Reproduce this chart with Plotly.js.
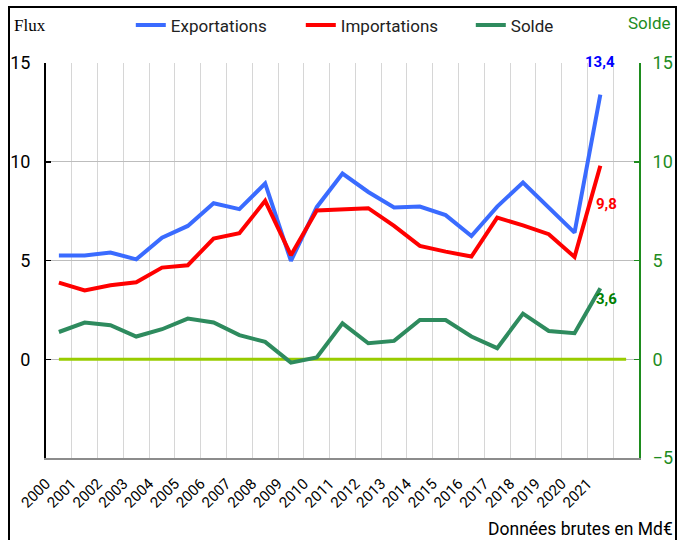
<!DOCTYPE html>
<html>
<head>
<meta charset="utf-8">
<script src="https://cdn.plot.ly/plotly-3.0.1.min.js"></script>
<style>
html,body{margin:0;padding:0;background:#fff;}
#wrap{position:relative;width:678px;height:540px;overflow:hidden;}
#chart{position:absolute;left:0;top:0;width:678px;height:540px;}
#frame{position:absolute;left:8px;top:6px;width:665px;height:560px;border:2px solid #000;pointer-events:none;}
</style>
</head>
<body>
<div id="wrap"><div id="chart"></div><div id="frame"></div></div>
<script>
const years = [2000,2001,2002,2003,2004,2005,2006,2007,2008,2009,2010,2011,2012,2013,2014,2015,2016,2017,2018,2019,2020,2021];
const exportations = [5.25,5.25,5.4,5.06,6.15,6.75,7.9,7.6,8.9,4.98,7.7,9.4,8.47,7.68,7.73,7.3,6.24,7.73,8.95,7.7,6.41,13.4];
const importations = [3.88,3.48,3.75,3.9,4.64,4.76,6.11,6.38,8.02,5.27,7.53,7.6,7.65,6.75,5.74,5.45,5.2,7.17,6.78,6.33,5.18,9.8];
const solde = [1.38,1.86,1.72,1.15,1.52,2.06,1.86,1.22,0.88,-0.17,0.09,1.82,0.81,0.93,1.99,1.99,1.15,0.56,2.31,1.43,1.32,3.6];
const zeroYears = [2000,2001,2002,2003,2004,2005,2006,2007,2008,2009,2010,2011,2012,2013,2014,2015,2016,2017,2018,2019,2020,2021,2022];
const zeroLine = zeroYears.map(() => 0);
const lastLabels = ["13,4","9,8","3,6"];

const cBlue = "#3A6BFF", cRed = "#FF0000", cGreen = "#2E8B5E", cZero = "#99CC00", cAxisGreen = "#1E8C1E";
const font = "Roboto, Arial, sans-serif";

const traces = [
  {x: zeroYears, y: zeroLine, type: "scatter", mode: "lines", line: {color: cZero, width: 3}, showlegend: false, hoverinfo: "skip"},
  {x: years, y: exportations, name: "Exportations", type: "scatter", mode: "lines", line: {color: cBlue, width: 4}},
  {x: years, y: importations, name: "Importations", type: "scatter", mode: "lines", line: {color: cRed, width: 4}},
  {x: years, y: solde, name: "Solde", type: "scatter", mode: "lines", line: {color: cGreen, width: 4}},
  {x: years, y: solde, type: "scatter", mode: "lines", yaxis: "y2", xaxis: "x2", line: {width: 0}, opacity: 0, showlegend: false, hoverinfo: "skip"}
];

const n = years.length;
const layout = {
  width: 678, height: 540,
  margin: {l: 46, r: 39, t: 63, b: 82, autoexpand: false},
  paper_bgcolor: "#fff", plot_bgcolor: "#fff",
  font: {family: font, size: 16, color: "#000"},
  showlegend: true,
  legend: {orientation: "h", x: 0.143, xanchor: "left", y: 1.095, yanchor: "middle",
           font: {family: font, size: 17, color: "#222"}, entrywidth: 125, entrywidthmode: "pixels",
           bgcolor: "rgba(0,0,0,0)"},
  xaxis: {type: "linear", range: [1999.5, 2022.5], tickmode: "array",
          tickvals: zeroYears.map(y => y + 0.5), showticklabels: false, ticks: "",
          showgrid: true, gridcolor: "#D6D6D6", gridwidth: 1, zeroline: false,
          showline: true, linecolor: "#8C8C8C", linewidth: 2, mirror: false},
  xaxis2: {type: "linear", range: [1999.5, 2022.5], overlaying: "x", anchor: "y", side: "bottom",
           tickmode: "array", tickvals: years.map(y => y - 0.5), ticktext: years.map(String),
           tickangle: -45, ticks: "outside", ticklen: 10, tickcolor: "rgba(0,0,0,0)",
           showgrid: false, zeroline: false, showline: false,
           tickfont: {family: font, size: 15, color: "#000"}},
  yaxis: {range: [-5, 15], tickmode: "array", tickvals: [0, 5, 10, 15], ticks: "inside", ticklen: 5,
          tickcolor: "#000", tickwidth: 1.5, showline: true, linecolor: "#000", linewidth: 2,
          ticklabelstandoff: 10,
          showgrid: true, gridcolor: "#BDBDBD", gridwidth: 1, zeroline: false,
          tickfont: {family: font, size: 18, color: "#000"}},
  yaxis2: {range: [-5, 15], overlaying: "y", side: "right", dtick: 5, ticks: "inside", ticklen: 5,
           tickcolor: cAxisGreen, tickwidth: 1.5, showline: true, linecolor: cAxisGreen, linewidth: 2,
           ticklabelstandoff: 8,
           showgrid: false, zeroline: false, tickfont: {family: font, size: 18, color: cAxisGreen}},
  annotations: [
    {text: "Flux", xref: "paper", yref: "paper", x: -0.057, y: 1.095, xanchor: "left", yanchor: "middle",
     showarrow: false, font: {family: "Liberation Serif, Times New Roman, serif", size: 17, color: "#000"}},
    {text: "Solde", xref: "paper", yref: "paper", x: 1.058, y: 1.1, xanchor: "right", yanchor: "middle",
     showarrow: false, font: {family: font, size: 17, color: cAxisGreen}},
    {text: "Données brutes en Md€", xref: "paper", yref: "paper", x: 1.06, y: -0.18, xanchor: "right", yanchor: "middle",
     showarrow: false, font: {family: font, size: 17.5, color: "#000"}},
    {text: "<b>" + lastLabels[0] + "</b>", x: years[n-1], y: exportations[n-1], xref: "x", yref: "y",
     showarrow: false, xanchor: "center", yanchor: "middle", yshift: 33, font: {family: font, size: 15, color: "#0000FF"}},
    {text: "<b>" + lastLabels[1] + "</b>", x: years[n-1], y: importations[n-1], xref: "x", yref: "y",
     showarrow: false, xanchor: "left", yanchor: "middle", xshift: -6, yshift: -38, font: {family: font, size: 15, color: "#FF0000"}},
    {text: "<b>" + lastLabels[2] + "</b>", x: years[n-1], y: solde[n-1], xref: "x", yref: "y",
     showarrow: false, xanchor: "left", yanchor: "middle", xshift: -6, yshift: -11, font: {family: font, size: 15, color: "#008000"}}
  ]
};

Plotly.newPlot("chart", traces, layout, {displayModeBar: false, staticPlot: true});
</script>
</body>
</html>
